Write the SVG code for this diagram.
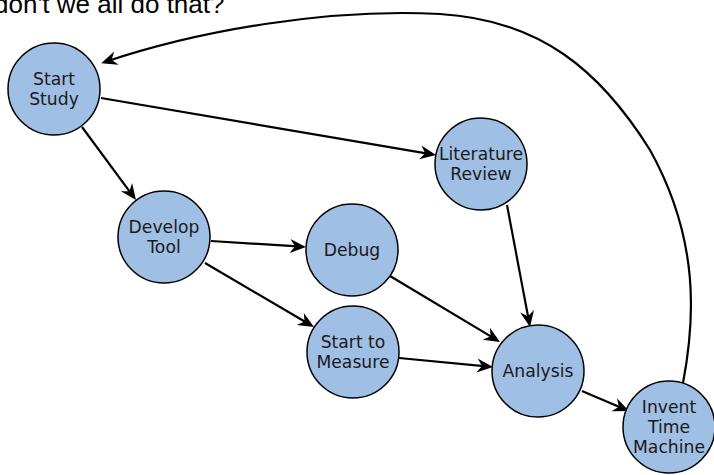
<svg xmlns="http://www.w3.org/2000/svg" width="714" height="475" viewBox="0 0 714 475">
<style>
.node circle{fill:#a0bfe5;stroke:#000;stroke-width:1.5}
.node text{font-family:"DejaVu Sans",sans-serif;font-size:17.2px;fill:#1a1a1a;text-anchor:middle}
.edge{fill:none;stroke:#000;stroke-width:2.2;marker-end:url(#arr)}
.title{font-family:"Liberation Sans",Arial,sans-serif;font-size:26px;fill:#000}
</style>
<defs>
<marker id="arr" markerUnits="userSpaceOnUse" viewBox="-14 -8 20 16" markerWidth="20" markerHeight="16" refX="0" refY="0" orient="auto" overflow="visible">
<path d="M4,0 L-12,-7 L-7,0 L-12,7 Z" fill="#000"/>
</marker>
</defs>
<rect width="714" height="475" fill="#fff"/>
<text class="title" x="-6" y="12.5">don't we all do that?</text>
<g id="edges">
<line class="edge" x1="101" y1="98" x2="432.1" y2="154.3"/>
<line class="edge" x1="82" y1="127" x2="133.6" y2="196.8"/>
<line class="edge" x1="211" y1="241" x2="302" y2="246.7"/>
<line class="edge" x1="205" y1="263" x2="310.6" y2="325"/>
<line class="edge" x1="390" y1="276" x2="496.6" y2="339.9"/>
<line class="edge" x1="399" y1="358" x2="489" y2="366.6"/>
<line class="edge" x1="507" y1="205" x2="529.3" y2="323.1"/>
<line class="edge" x1="582" y1="391" x2="625.3" y2="409.4"/>
<path class="edge" d="M683,383 C695,320 700,240 650,150 C600,70 540,20 440,14 C330,8 200,30 105,62"/>
</g>
<g id="start-study" class="node"><circle cx="54" cy="89" r="46"/><text x="54" y="85">Start</text><text x="54" y="105">Study</text></g>
<g id="develop-tool" class="node"><circle cx="164" cy="237" r="46"/><text x="164" y="233">Develop</text><text x="164" y="253">Tool</text></g>
<g id="debug" class="node"><circle cx="352" cy="250" r="46"/><text x="352" y="256">Debug</text></g>
<g id="literature-review" class="node"><circle cx="481" cy="164" r="46"/><text x="481" y="160">Literature</text><text x="481" y="180">Review</text></g>
<g id="start-to-measure" class="node"><circle cx="353" cy="352" r="46"/><text x="353" y="348">Start to</text><text x="353" y="368">Measure</text></g>
<g id="analysis" class="node"><circle cx="538" cy="371" r="46"/><text x="538" y="377">Analysis</text></g>
<g id="invent-time-machine" class="node"><circle cx="669" cy="427" r="46"/><text x="669" y="413">Invent</text><text x="669" y="433">Time</text><text x="669" y="453">Machine</text></g>
</svg>
